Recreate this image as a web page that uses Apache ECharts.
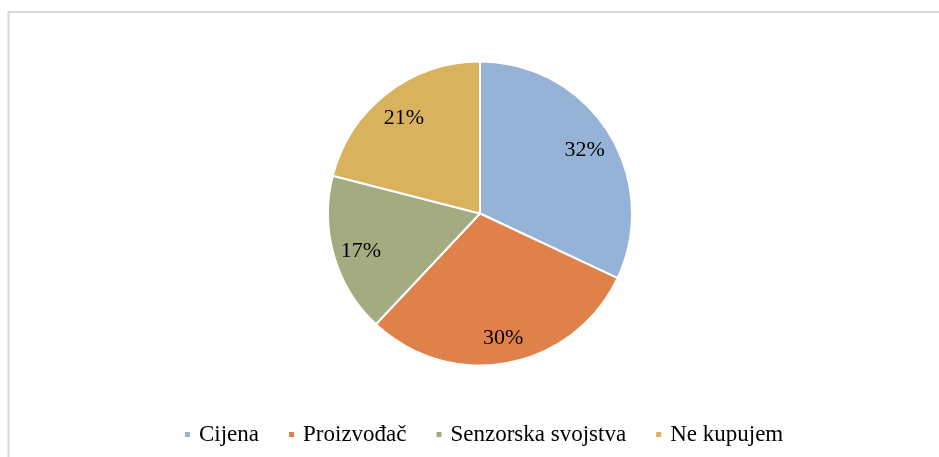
<!DOCTYPE html>
<html>
<head>
<meta charset="utf-8">
<script src="https://cdn.jsdelivr.net/npm/echarts@6/dist/echarts.min.js"></script>
<style>
  html, body { margin: 0; padding: 0; background: #fff; }
  #chart { width: 939px; height: 457px; }
</style>
</head>
<body>
<div id="chart"></div>
<script>
// podaci
const categories = ['Cijena', 'Proizvođač', 'Senzorska svojstva', 'Ne kupujem'];
const shares = [32, 30, 17, 21];
const colors = ['#95B3D7', '#E0814A', '#A5AB80', '#D9B25E'];

const pieData = categories.map((name, i) => ({ name: name, value: shares[i] }));

const myChart = echarts.init(document.getElementById('chart'));

const option = {
  animation: false,
  color: colors,
  textStyle: { fontFamily: 'Liberation Serif, Times New Roman, serif' },
  graphic: [
    {
      type: 'rect',
      shape: { x: 8.5, y: 12, width: 1000, height: 1000 },
      style: { fill: 'none', stroke: '#d9d9d9', lineWidth: 2 },
      silent: true
    }
  ],
  legend: {
    data: categories,
    left: 178,
    top: 418,
    icon: 'rect',
    itemWidth: 7,
    itemHeight: 7,
    itemGap: 28,
    textStyle: { fontSize: 23, color: '#000', fontFamily: 'Liberation Serif', padding: [0, 0, 0, 3] }
  },
  series: [
    {
      // kriske
      type: 'pie',
      center: [480, 213.5],
      radius: [0, 152],
      startAngle: 90,
      clockwise: true,
      data: pieData,
      label: { show: false },
      labelLine: { show: false },
      itemStyle: { borderColor: '#fff', borderWidth: 2 },
      emphasis: { disabled: true }
    },
    {
      // samo za postotke (prozirni prsten da labela sjedne dalje od sredine)
      type: 'pie',
      center: [480, 213.5],
      radius: [90, 152],
      startAngle: 90,
      clockwise: true,
      silent: true,
      data: pieData,
      itemStyle: { color: 'rgba(0,0,0,0)' },
      label: {
        show: true,
        position: 'inside',
        formatter: '{c}%',
        fontSize: 22,
        color: '#000',
        fontFamily: 'Liberation Serif',
        offset: [0, 3]
      },
      labelLine: { show: false },
      emphasis: { disabled: true }
    }
  ]
};

myChart.setOption(option);
</script>
</body>
</html>
